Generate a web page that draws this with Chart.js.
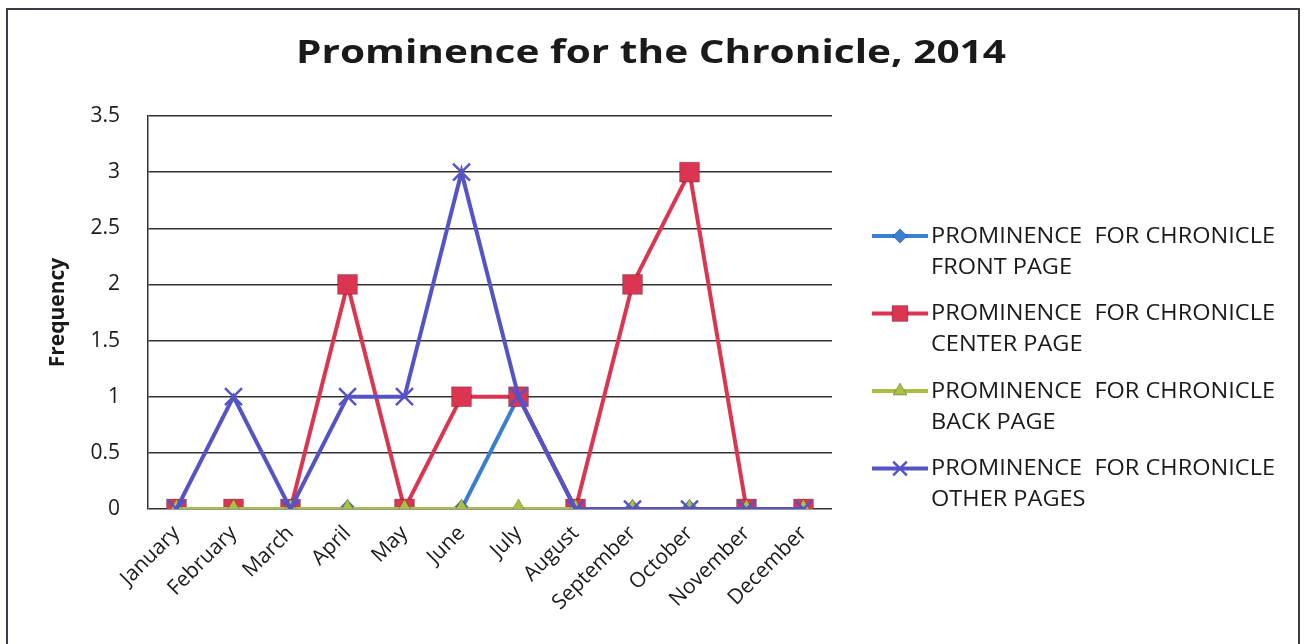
<!DOCTYPE html>
<html>
<head>
<meta charset="utf-8">
<script src="https://cdn.jsdelivr.net/npm/chart.js@4.4.1/dist/chart.umd.min.js"></script>
<style>
  html, body { margin: 0; padding: 0; background: #fff; }
  #frame {
    position: absolute; left: 6px; top: 8px; width: 1294px; height: 650px;
    border: 2px solid #3a3a4a; box-sizing: border-box;
  }
  #wrap { position: absolute; left: 0; top: 0; width: 1305px; height: 644px; }
</style>
</head>
<body>
<div id="frame"></div>
<div id="wrap"><canvas id="chart"></canvas></div>
<script>
// Data
const MONTHS = ['January', 'February', 'March', 'April', 'May', 'June', 'July',
                'August', 'September', 'October', 'November', 'December'];
const FRONT_PAGE  = [0, 0, 0, 0, 0, 0, 1, 0, 0, 0, 0, 0];
const CENTER_PAGE = [0, 0, 0, 2, 0, 1, 1, 0, 2, 3, 0, 0];
const BACK_PAGE   = [0, 0, 0, 0, 0, 0, 0, 0, 0, 0, 0, 0];
const OTHER_PAGES = [0, 1, 0, 1, 1, 3, 1, 0, 0, 0, 0, 0];
const SERIES_NAMES = [
  ['PROMINENCE  FOR CHRONICLE', 'FRONT PAGE'],
  ['PROMINENCE  FOR CHRONICLE', 'CENTER PAGE'],
  ['PROMINENCE  FOR CHRONICLE', 'BACK PAGE'],
  ['PROMINENCE  FOR CHRONICLE', 'OTHER PAGES'],
];
const TITLE = 'Prominence for the Chronicle, 2014';
const Y_MAX = 3.5;
const Y_STEP = 0.5;

const COLORS = {
  front:  '#3b7dd0',
  center: '#dc3551',
  back:   '#a9c044',
  other:  '#5553c6',
  grid:   '#333333',
  text:   '#1a1a1a',
};

const FONT = "'Open Sans', 'Noto Sans', sans-serif";

function series(i, data, color, style, radius, order) {
  return {
    label: SERIES_NAMES[i].join(' '),
    legendLines: SERIES_NAMES[i],
    data: data,
    borderColor: color,
    backgroundColor: color,
    borderWidth: 4,
    pointStyle: style,
    pointRadius: radius,
    pointBorderWidth: style === 'crossRot' ? 2.5 : 1,
    pointBorderColor: style === 'crossRot' ? color : 'rgba(0,0,0,0.25)',
    pointBackgroundColor: color,
    tension: 0,
    order: order,
  };
}

// the scan is a bit wider than tall, so text gets stretched sideways to the same width
function wideText(ctx, text, x, y, sx) {
  ctx.save();
  ctx.translate(x, y);
  ctx.scale(sx, 1);
  ctx.fillText(text, 0, 0);
  ctx.restore();
}

// Title plus the legend at the right, text wrapped on two lines like Excel's
const decorations = {
  id: 'decorations',
  afterDraw(chart) {
    const ctx = chart.ctx;
    ctx.save();
    ctx.fillStyle = COLORS.text;
    ctx.textBaseline = 'alphabetic';
    ctx.font = `bold 33px ${FONT}`;
    const tw = ctx.measureText(TITLE).width;
    wideText(ctx, TITLE, 296, 63, 710 / tw);

    const x0 = 872, x1 = 928, tx = 931;
    ctx.font = `21px ${FONT}`;
    ctx.textBaseline = 'middle';
    const lsx = 344 / ctx.measureText(SERIES_NAMES[0][0]).width;
    chart.data.datasets.forEach((ds, i) => {
      const y = 236 + i * 77.5;
      ctx.strokeStyle = ds.borderColor;
      ctx.lineWidth = 4;
      ctx.beginPath(); ctx.moveTo(x0, y); ctx.lineTo(x1, y); ctx.stroke();
      ctx.fillStyle = ds.pointBackgroundColor;
      ctx.strokeStyle = ds.pointBorderColor;
      ctx.lineWidth = ds.pointBorderWidth;
      Chart.helpers.drawPoint(ctx, { pointStyle: ds.pointStyle, radius: ds.pointRadius * 0.8, rotation: 0, borderWidth: ds.pointBorderWidth }, (x0 + x1) / 2, y);
      ctx.fillStyle = COLORS.text;
      wideText(ctx, ds.legendLines[0], tx, y + 1, lsx);
      wideText(ctx, ds.legendLines[1], tx, y + 32, lsx);
    });
    ctx.restore();
  }
};

new Chart(document.getElementById('chart'), {
  type: 'line',
  data: {
    labels: MONTHS,
    datasets: [
      series(0, FRONT_PAGE,  COLORS.front,  'rectRot',  9,  4),
      series(1, CENTER_PAGE, COLORS.center, 'rect',     14, 3),
      series(2, BACK_PAGE,   COLORS.back,   'triangle', 10, 2),
      series(3, OTHER_PAGES, COLORS.other,  'crossRot', 12, 1),
    ]
  },
  options: {
    responsive: true,
    maintainAspectRatio: false,
    animation: false,
    layout: { padding: { left: 10, right: 473, top: 116, bottom: 0 } },
    plugins: {
      legend: { display: false },
      tooltip: { enabled: false },
      title: { display: false },
    },
    scales: {
      x: {
        offset: true,
        grid: { display: false },
        border: { display: false },
        ticks: {
          color: COLORS.text,
          font: { family: FONT, size: 21 },
          minRotation: 45, maxRotation: 45,
          padding: 4,
        },
        afterFit(axis) { axis.height = 135; },
      },
      y: {
        min: 0, max: Y_MAX,
        grid: { color: COLORS.grid, lineWidth: 1.5, drawTicks: false },
        border: { display: true, color: COLORS.grid, width: 1.5 },
        ticks: {
          stepSize: Y_STEP,
          color: COLORS.text,
          font: { family: FONT, size: 21 },
          padding: 28,
          callback: v => String(v),
        },
        title: {
          display: true,
          text: 'Frequency',
          color: COLORS.text,
          font: { family: FONT, size: 21, weight: 'bold' },
          padding: { top: 35, bottom: 0 },
        },
        afterFit(axis) { axis.width = 138; },
      }
    }
  },
  plugins: [decorations]
});
</script>
</body>
</html>
